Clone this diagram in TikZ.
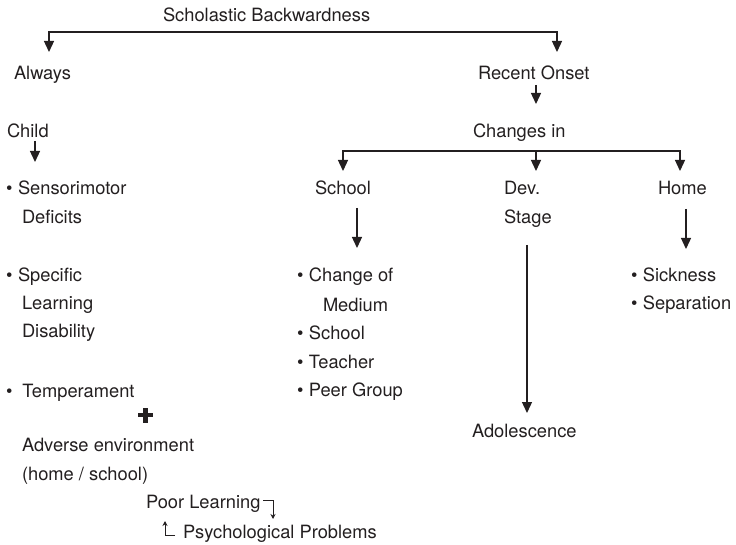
\documentclass[tikz,border=0pt]{standalone}
\usepackage{fontspec}
\setmainfont{TeX Gyre Heros}
\usetikzlibrary{arrows.meta}
\definecolor{ink}{HTML}{231F20}
\tikzset{
  txt/.style={inner sep=0pt, outer sep=0pt, anchor=base west, text=ink,
    font=\fontsize{18.3}{22}\selectfont},
  conn/.style={draw=ink, line width=1.3pt},
  arr/.style={conn, -{Triangle[width=10pt,length=11pt]}},
  arrboth/.style={conn, {Triangle[width=10pt,length=11pt]}-{Triangle[width=10pt,length=11pt]}},
  smallarr/.style={draw=ink, line width=1pt, -{Stealth[width=5pt,length=5pt]}},
  plusbar/.style={draw=ink, line width=4.2pt}
}
\begin{document}
\begin{tikzpicture}[x=1pt,y=-1pt]
\useasboundingbox (0,0) rectangle (736,545);
% texts
\node[txt] (title) at (163,21.5) {Scholastic Backwardness};
\node[txt] (always) at (14,79.5) {Always};
\node[txt] (onset) at (478,79.5) {Recent Onset};
\node[txt] (changes) at (473,137.5) {Changes in};
\node[txt] (child) at (7,137.5) {Child};
\node[txt] (sens) at (6,194.5) {•\hspace{5.6pt}Sensorimotor};
\node[txt] (defic) at (22,223.5) {Deficits};
\node[txt] (spec) at (6,281.5) {•\hspace{5.6pt}Specific};
\node[txt] (learn) at (22,309.5) {Learning};
\node[txt] (disab) at (22,337.5) {Disability};
\node[txt] (temper) at (6,397.5) {•\hspace{10pt}Temperament};
\node[txt] (adverse) at (22,451.5) {Adverse environment};
\node[txt] (homesch) at (22,480.5) {(home / school)};
\node[txt] (poor) at (146,508.5) {Poor Learning};
\node[txt] (psych) at (183,538.5) {Psychological Problems};
\node[txt] (school) at (315,194.5) {School};
\node[txt] (dev) at (504,194.5) {Dev.};
\node[txt] (stage) at (504,223.5) {Stage};
\node[txt] (home) at (658,194.5) {Home};
\node[txt] (chg) at (297,281.5) {•\hspace{5.5pt}Change of};
\node[txt] (medium) at (323,311.5) {Medium};
\node[txt] (sch2) at (297,339.5) {•\hspace{5.5pt}School};
\node[txt] (teach) at (297,368.5) {•\hspace{5.5pt}Teacher};
\node[txt] (peer) at (297,396.5) {•\hspace{5.5pt}Peer Group};
\node[txt] (adol) at (472,437.5) {Adolescence};
\node[txt] (sick) at (631,281.5) {•\hspace{5.5pt}Sickness};
\node[txt] (sep) at (631,309.5) {•\hspace{5.5pt}Separation};
% plus sign
\coordinate (plusc) at (145.5,415);
\draw[plusbar] ([xshift=-7.5pt]plusc) -- ([xshift=7.5pt]plusc);
\draw[plusbar] ([yshift=-7.5pt]plusc) -- ([yshift=7.5pt]plusc);
% connector coordinates
\coordinate (tl) at (49,32);
\coordinate (tr) at (557,32);
\coordinate (alwaysTip) at (49,52);
\coordinate (onsetTip) at (557,52);
\coordinate (onsetOut) at (536,85);
\coordinate (changesTip) at (536,104);
\coordinate (cl) at (343,151);
\coordinate (cm) at (536,151);
\coordinate (cr) at (680,151);
\coordinate (schoolTip) at (343,171);
\coordinate (devTip) at (536,171);
\coordinate (homeTip) at (680,171);
\coordinate (childOut) at (35,141);
\coordinate (childTip) at (35,162);
\coordinate (schoolOut) at (357,208);
\coordinate (schoolListTip) at (357,248);
\coordinate (devOut) at (527,245);
\coordinate (adolTip) at (527,413);
\coordinate (homeOut) at (686,209);
\coordinate (homeListTip) at (686,249);
\coordinate (poorOut) at (263,500.5);
\coordinate (poorCorner) at (273,500.5);
\coordinate (poorTip) at (273,519);
\coordinate (psychOut) at (175,535);
\coordinate (psychCorner) at (165,535);
\coordinate (psychTip) at (165,521);
% connectors
\draw[arrboth] (alwaysTip) -- (tl) -- (tr) -- (onsetTip);
\draw[arr] (onsetOut) -- (changesTip);
\draw[arrboth] (schoolTip) -- (cl) -- (cr) -- (homeTip);
\draw[arr] (cm) -- (devTip);
\draw[arr] (childOut) -- (childTip);
\draw[arr] (schoolOut) -- (schoolListTip);
\draw[arr] (devOut) -- (adolTip);
\draw[arr] (homeOut) -- (homeListTip);
\draw[smallarr] (poorOut) -- (poorCorner) -- (poorTip);
\draw[smallarr] (psychOut) -- (psychCorner) -- (psychTip);
\end{tikzpicture}
\end{document}
